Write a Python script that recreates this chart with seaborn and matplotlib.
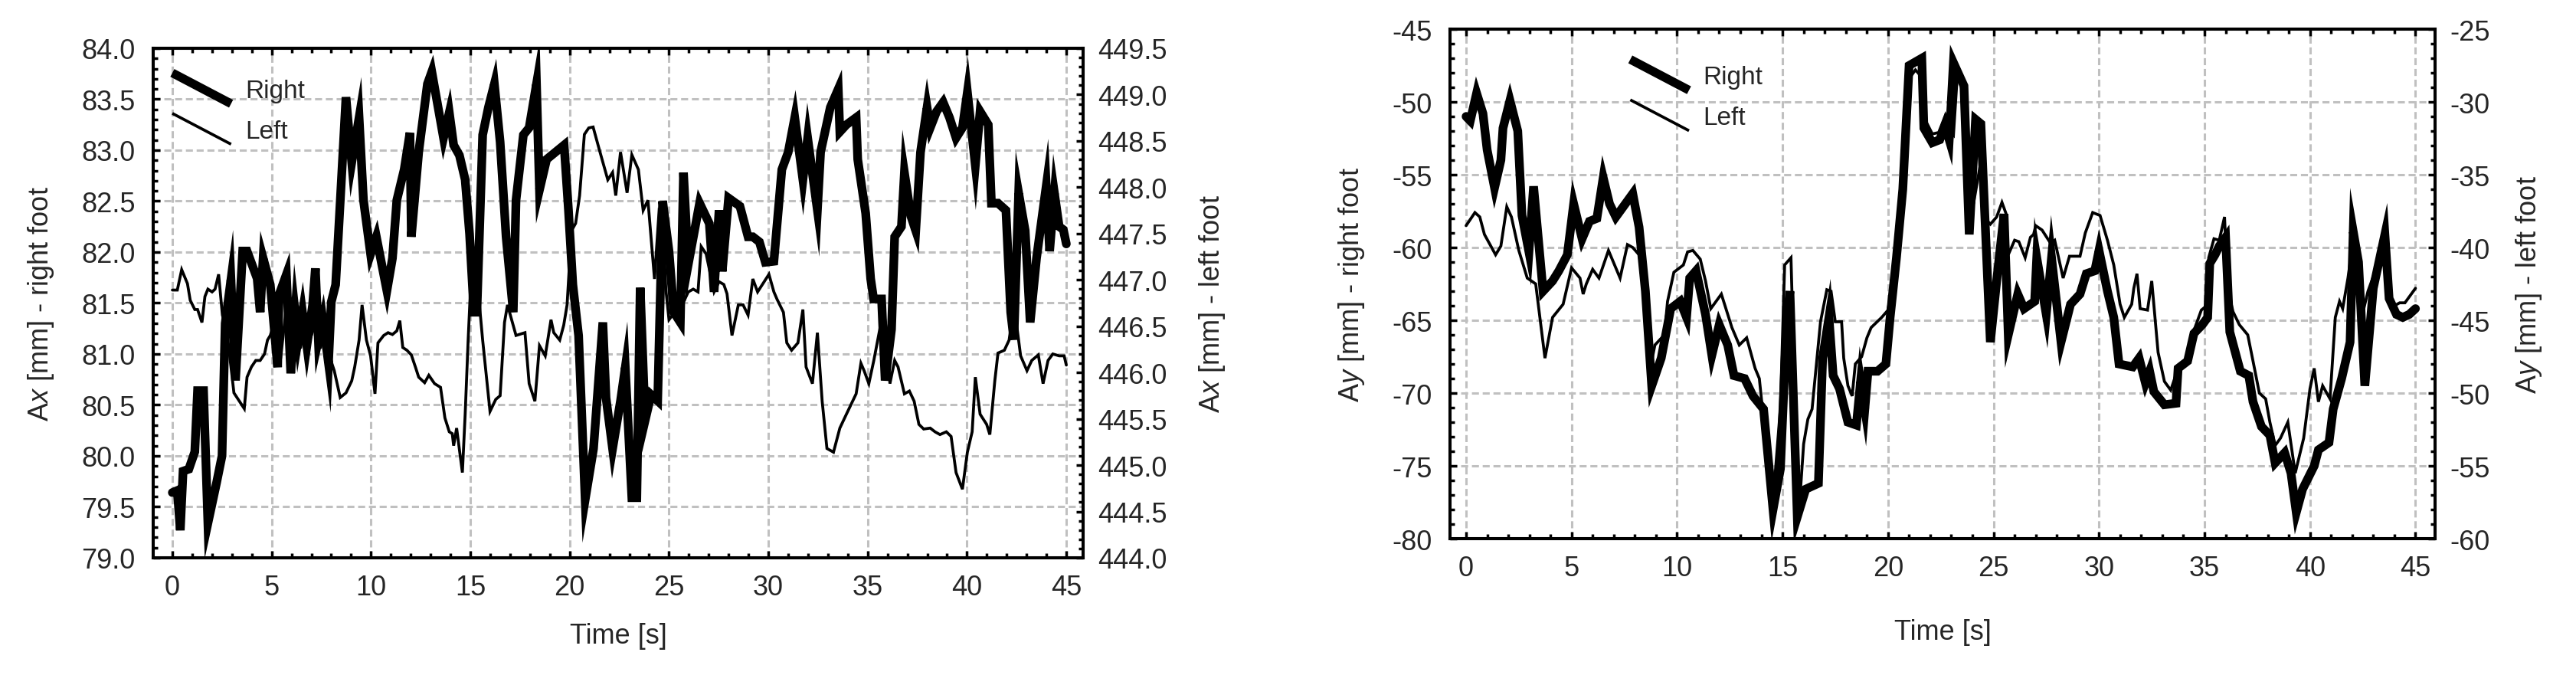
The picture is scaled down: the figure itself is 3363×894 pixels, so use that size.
import numpy as np
import matplotlib
matplotlib.use("Agg")
import matplotlib.pyplot as plt
import seaborn as sns
from matplotlib.lines import Line2D
from matplotlib.legend_handler import HandlerLine2D
from matplotlib.ticker import MultipleLocator, FormatStrFormatter

# ---- data: Ax (left panel) ----
t_ax_right = [0.0, 0.25, 0.4, 0.54, 0.83, 1.13, 1.27, 1.57, 1.79, 2.23, 2.5, 2.66, 2.95, 3.18, 3.54,
              3.76, 4.27, 4.42, 4.57, 4.93, 5.3, 5.37, 5.74, 5.96, 6.18, 6.33, 6.55, 6.77, 7.06, 7.2,
              7.35, 7.57, 7.86, 8.0, 8.22, 8.74, 9.03, 9.4, 9.62, 9.98, 10.27, 10.8, 11.08, 11.3,
              11.67, 11.96, 12.03, 12.4, 12.84, 13.06, 13.35, 13.65, 13.94, 14.16, 14.45, 14.74,
              14.96, 15.18, 15.33, 15.62, 15.91, 16.21, 16.5, 16.8, 17.16, 17.3, 17.67, 17.96,
              18.33, 18.48, 18.84, 19.28, 19.72, 19.94, 20.16, 20.45, 20.78, 21.2, 21.67, 21.83,
              22.16, 22.56, 22.8, 23.13, 23.38, 23.55, 23.8, 24.1, 24.43, 24.68, 25.0, 25.24,
              25.57, 25.73, 25.97, 26.54, 27.03, 27.27, 27.52, 27.68, 28.0, 28.57, 28.98, 29.22,
              29.55, 29.85, 30.28, 30.68, 31.0, 31.33, 31.74, 31.98, 32.47, 32.63, 33.12, 33.52,
              33.6, 33.93, 34.42, 34.5, 34.9, 35.15, 35.3, 35.7, 35.88, 36.2, 36.36, 36.7, 36.85,
              37.18, 37.42, 37.66, 37.99, 38.15, 38.47, 38.8, 39.12, 39.45, 39.77, 40.02, 40.42,
              40.66, 41.07, 41.23, 41.56, 41.96, 42.2, 42.36, 42.6, 42.93, 43.18, 43.5, 43.99,
              44.16, 44.4, 44.64, 44.85, 45.0]
ax_right = [79.64, 79.66, 79.27, 79.85, 79.87, 80.04, 80.64, 80.64, 79.34, 79.74, 80.0, 81.3, 81.73,
            80.74, 82.01, 82.01, 81.74, 81.41, 81.94, 81.68, 80.87, 81.58, 81.78, 80.81, 81.41,
            81.14, 81.41, 81.08, 81.48, 81.84, 81.14, 81.34, 80.91, 81.51, 81.68, 83.52, 82.88,
            83.32, 82.51, 81.98, 82.15, 81.62, 81.94, 82.51, 82.81, 83.17, 82.15, 82.98, 83.65,
            83.77, 83.45, 83.12, 83.37, 83.05, 82.95, 82.71, 82.18, 81.41, 81.41, 83.15, 83.42,
            83.65, 83.08, 82.15, 81.41, 82.51, 83.15, 83.22, 83.65, 82.61, 82.91, 82.98, 83.05,
            82.41, 81.68, 81.18, 79.57, 80.07, 81.31, 80.57, 80.07, 80.54, 80.87, 79.59, 79.59,
            81.65, 80.35, 80.6, 80.54, 82.5, 82.01, 81.41, 81.31, 82.78, 81.88, 82.48, 82.28,
            81.61, 82.41, 81.81, 82.53, 82.45, 82.15, 82.15, 82.1, 81.9, 81.91, 82.81, 82.98,
            83.32, 82.71, 83.12, 82.41, 82.98, 83.42, 83.6, 83.18, 83.25, 83.32, 82.91, 82.38,
            81.74, 81.54, 81.54, 80.74, 81.24, 82.15, 82.25, 82.78, 82.35, 82.21, 82.98, 83.42,
            83.22, 83.38, 83.47, 83.32, 83.12, 83.22, 83.57, 82.85, 83.38, 83.25, 82.48, 82.48,
            82.41, 81.41, 81.14, 82.58, 82.21, 81.31, 81.94, 82.65, 82.01, 82.58, 82.25, 82.22,
            82.08]

t_ax_left = [0.0, 0.25, 0.47, 0.76, 0.9, 1.13, 1.27, 1.49, 1.64, 1.79, 2.0, 2.15, 2.33, 2.52, 2.75,
             3.1, 3.47, 3.62, 3.76, 3.98, 4.2, 4.42, 4.64, 4.79, 4.93, 5.2, 5.45, 5.7, 5.95, 6.2,
             6.45, 6.7, 6.95, 7.2, 7.45, 7.7, 7.95, 8.15, 8.45, 8.74, 9.03, 9.18, 9.4, 9.55, 9.77,
             9.98, 10.2, 10.35, 10.64, 10.86, 11.08, 11.3, 11.45, 11.6, 11.81, 12.03, 12.25, 12.4,
             12.7, 12.91, 13.2, 13.5, 13.72, 13.94, 14.09, 14.16, 14.31, 14.6, 14.74, 14.89,
             15.03, 15.2, 15.45, 15.62, 15.99, 16.28, 16.5, 16.72, 16.87, 17.3, 17.75, 17.96,
             18.25, 18.48, 18.77, 19.06, 19.2, 19.5, 19.7, 19.87, 20.09, 20.3, 20.5, 20.74, 20.96,
             21.18, 21.5, 21.92, 22.16, 22.32, 22.56, 22.89, 23.13, 23.46, 23.7, 23.94, 24.27,
             24.5, 24.68, 24.84, 25.0, 25.25, 25.49, 25.73, 25.97, 26.22, 26.46, 26.62, 26.87,
             27.27, 27.52, 27.76, 27.92, 28.17, 28.49, 28.73, 28.98, 29.22, 29.46, 29.79, 30.03,
             30.28, 30.44, 30.76, 30.93, 31.17, 31.49, 31.74, 31.9, 32.22, 32.47, 32.71, 32.95,
             33.28, 33.6, 33.93, 34.42, 34.66, 34.82, 35.06, 35.31, 35.55, 35.8, 35.96, 36.12,
             36.36, 36.53, 36.85, 37.1, 37.34, 37.58, 37.82, 38.15, 38.39, 38.64, 38.96, 39.2,
             39.45, 39.77, 40.02, 40.26, 40.42, 40.66, 40.99, 41.15, 41.4, 41.56, 41.88, 42.12,
             42.37, 42.7, 43.02, 43.26, 43.59, 43.83, 44.08, 44.32, 44.64, 44.89, 45.0]
ax_left = [446.89, 446.89, 447.11, 446.96, 446.78, 446.68, 446.68, 446.54, 446.82, 446.90, 446.87,
           446.90, 447.06, 446.62, 446.44, 445.78, 445.66, 445.61, 445.95, 446.06, 446.13, 446.13,
           446.20, 446.35, 446.40, 446.59, 446.15, 446.64, 446.31, 446.53, 446.26, 446.59, 446.37,
           446.53, 446.26, 446.48, 446.15, 446.02, 445.73, 445.78, 445.91, 446.06, 446.35, 446.73,
           446.35, 446.18, 445.77, 446.32, 446.40, 446.43, 446.41, 446.45, 446.56, 446.27, 446.24,
           446.19, 446.05, 445.95, 445.89, 445.97, 445.88, 445.84, 445.51, 445.36, 445.34, 445.21,
           445.40, 444.92, 445.55, 446.35, 447.01, 446.81, 446.75, 446.35, 445.58, 445.71, 445.75,
           446.54, 446.73, 446.40, 446.43, 445.88, 445.69, 446.29, 446.18, 446.57, 446.43, 446.35,
           446.51, 446.73, 447.53, 447.61, 447.91, 448.57, 448.64, 448.65, 448.40, 448.08, 448.16,
           447.91, 448.38, 447.94, 448.35, 448.19, 447.75, 447.86, 447.01, 447.74, 447.69, 446.90,
           446.57, 446.64, 446.68, 446.76, 446.87, 446.90, 446.87, 447.36, 447.28, 446.87, 446.98,
           446.95, 446.85, 446.40, 446.73, 446.73, 446.62, 447.01, 446.87, 446.98, 447.06, 446.87,
           446.79, 446.65, 446.32, 446.24, 446.32, 446.68, 446.06, 445.88, 446.43, 445.69, 445.18,
           445.14, 445.40, 445.55, 445.77, 446.10, 446.02, 445.88, 446.13, 446.40, 446.68, 446.43,
           445.88, 446.13, 446.06, 445.77, 445.80, 445.69, 445.44, 445.39, 445.40, 445.36, 445.33,
           445.36, 445.31, 444.92, 444.74, 445.14, 445.36, 445.95, 445.55, 445.44, 445.33, 445.91,
           446.21, 446.24, 446.35, 446.73, 446.18, 446.02, 446.13, 446.19, 445.88, 446.13, 446.20,
           446.18, 446.18, 446.08]

# ---- data: Ay (right panel) ----
t_ay_right = [0.0, 0.2, 0.5, 0.8, 1.0, 1.35, 1.65, 1.75, 2.08, 2.45, 2.65, 2.98, 3.2, 3.65, 4.1, 4.4,
              4.8, 5.1, 5.5, 5.85, 6.2, 6.5, 6.8, 7.1, 7.9, 8.2, 8.5, 8.8, 9.25, 9.7, 10.15, 10.45,
              10.6, 10.9, 11.35, 11.65, 12.0, 12.4, 12.7, 13.2, 13.6, 14.1, 14.55, 14.9, 15.2,
              15.35, 15.7, 16.1, 16.7, 16.9, 17.2, 17.4, 17.7, 18.1, 18.5, 18.7, 18.9, 19.05, 19.5,
              19.9, 20.1, 20.4, 20.7, 21.0, 21.6, 21.7, 22.1, 22.45, 22.7, 22.9, 23.1, 23.6, 23.85,
              24.15, 24.4, 24.85, 25.2, 25.5, 25.7, 26.15, 26.45, 26.95, 27.05, 27.5, 27.75, 28.2,
              28.65, 29.1, 29.4, 29.8, 30.0, 30.4, 30.7, 30.95, 31.6, 31.9, 32.2, 32.4, 32.6, 33.1,
              33.65, 33.75, 34.2, 34.5, 34.9, 35.15, 35.25, 35.5, 35.7, 36.0, 36.2, 36.7, 37.1,
              37.3, 37.7, 38.1, 38.35, 38.8, 39.1, 39.35, 39.65, 40.2, 40.4, 40.9, 41.1, 41.5,
              41.9, 42.05, 42.3, 42.6, 43.0, 43.55, 43.75, 44.1, 44.4, 44.7, 45.0]
ay_right = [-51.0, -51.3, -49.4, -50.8, -53.3, -55.9, -54.0, -51.8, -49.9, -52.0, -57.8, -60.3,
            -55.8, -63.0, -62.3, -61.6, -60.5, -57.0, -59.4, -58.2, -58.0, -55.2, -57.0, -57.9,
            -56.3, -58.6, -63.0, -69.5, -67.6, -64.2, -63.7, -64.8, -62.1, -61.6, -64.6, -67.4,
            -65.3, -66.7, -68.8, -69.0, -70.2, -71.1, -78.0, -75.2, -65.0, -63.0, -78.5, -76.6,
            -76.2, -67.6, -64.8, -68.8, -69.7, -72.0, -72.2, -69.2, -71.1, -68.5, -68.5, -68.0,
            -64.8, -60.7, -56.0, -47.5, -47.0, -51.8, -52.8, -52.6, -51.6, -52.6, -47.3, -48.9,
            -59.1, -51.2, -51.5, -66.5, -61.6, -57.7, -66.0, -63.2, -64.2, -63.7, -60.7, -64.6,
            -60.7, -66.5, -63.9, -63.2, -61.8, -61.6, -60.2, -63.0, -64.8, -68.0, -68.2, -67.6,
            -69.3, -68.5, -69.9, -70.8, -70.7, -68.3, -67.8, -65.9, -65.3, -64.8, -61.1, -60.5,
            -59.9, -59.3, -65.8, -68.5, -68.8, -70.6, -72.3, -72.9, -74.8, -74.1, -75.5, -78.2,
            -76.6, -75.0, -73.9, -73.4, -71.1, -69.0, -66.5, -58.9, -61.0, -69.5, -62.8, -59.1,
            -63.5, -64.6, -64.8, -64.6, -64.2]

t_ay_left = [0.0, 0.42, 0.65, 0.87, 1.4, 1.65, 1.93, 2.15, 2.5, 2.9, 3.3, 3.74, 4.1, 4.6, 5.0, 5.4,
             5.55, 5.7, 6.0, 6.3, 6.75, 7.3, 7.65, 7.9, 8.2, 8.5, 8.8, 8.95, 9.4, 9.55, 9.85, 10.3,
             10.5, 10.75, 11.1, 11.35, 11.6, 12.1, 12.6, 12.95, 13.3, 13.7, 13.9, 14.05, 14.35,
             14.6, 14.9, 15.1, 15.4, 15.75, 16.0, 16.2, 16.4, 16.8, 17.1, 17.3, 17.5, 17.8, 17.9,
             18.1, 18.3, 18.45, 18.75, 19.0, 19.2, 19.7, 20.0, 20.3, 20.6, 20.95, 21.3, 21.6,
             21.75, 22.1, 22.4, 22.7, 22.85, 23.1, 23.3, 23.55, 23.8, 24.05, 24.35, 24.6, 24.85,
             25.15, 25.4, 25.6, 25.7, 26.0, 26.2, 26.5, 26.75, 26.9, 27.0, 27.3, 27.7, 27.9, 28.3,
             28.6, 29.1, 29.35, 29.7, 30.05, 30.4, 30.7, 31.0, 31.2, 31.55, 31.65, 31.8, 31.95,
             32.3, 32.5, 32.8, 33.1, 33.4, 33.7, 34.2, 34.5, 34.85, 35.1, 35.2, 35.45, 35.7,
             35.95, 36.1, 36.35, 36.65, 37.05, 37.3, 37.6, 37.9, 38.1, 38.35, 38.6, 38.95, 39.3,
             39.7, 40.0, 40.2, 40.4, 40.6, 40.95, 41.2, 41.4, 41.55, 41.8, 42.0, 42.25, 42.5,
             42.75, 43.0, 43.3, 43.55, 43.75, 44.0, 44.25, 44.5, 44.7, 45.0]
ay_left = [-38.5, -37.6, -37.9, -39.1, -40.5, -39.9, -37.2, -37.9, -40.2, -42.1, -42.5, -47.6, -44.8,
           -43.9, -41.4, -42.1, -43.2, -42.5, -41.5, -42.1, -40.2, -42.1, -39.8, -40.0, -40.5,
           -43.0, -47.8, -46.7, -46.0, -43.7, -41.7, -41.2, -40.3, -40.2, -40.8, -42.3, -44.2,
           -43.2, -45.5, -46.7, -46.2, -48.3, -49.0, -51.1, -53.5, -56.5, -51.0, -41.2, -40.7,
           -58.8, -53.5, -51.8, -51.1, -45.1, -42.9, -43.0, -45.1, -45.1, -47.6, -49.5, -50.2,
           -48.0, -47.5, -46.2, -45.5, -44.8, -44.3, -41.5, -36.5, -28.5, -27.8, -28.3, -31.2,
           -32.2, -32.1, -31.0, -32.0, -32.3, -27.8, -29.5, -33.0, -37.0, -34.5, -38.0, -38.4,
           -37.9, -36.9, -37.7, -40.5, -39.5, -39.6, -40.7, -39.3, -39.1, -38.5, -38.8, -39.7,
           -39.5, -42.1, -40.6, -40.6, -39.0, -37.6, -37.8, -39.5, -41.2, -43.9, -44.8, -43.9,
           -42.8, -41.8, -44.2, -44.3, -42.3, -47.2, -49.2, -49.8, -48.5, -47.8, -45.7, -44.3,
           -44.0, -40.7, -39.4, -39.5, -37.9, -42.8, -44.4, -45.3, -46.0, -47.8, -50.0, -50.4,
           -52.0, -53.6, -53.1, -52.0, -55.5, -53.1, -49.7, -48.3, -50.6, -49.5, -50.4, -44.8,
           -43.7, -44.2, -42.1, -40.0, -42.0, -44.5, -43.0, -42.0, -41.0, -40.0, -43.2, -44.0,
           -43.8, -43.8, -43.4, -42.8]

legend_labels = ["Right", "Left"]
x_ticks = [0, 5, 10, 15, 20, 25, 30, 35, 40, 45]

sns.set_theme(style="white")
plt.rcParams["font.family"] = ["Liberation Sans", "DejaVu Sans"]
plt.rcParams["mathtext.fontset"] = "custom"
plt.rcParams["mathtext.rm"] = "Liberation Sans"
plt.rcParams["mathtext.it"] = "Liberation Sans:italic"
plt.rcParams["axes.unicode_minus"] = False

FS = 26
THICK = 8.2
THIN = 2.7
GRID = "#c0c0c0"


class SlashHandler(HandlerLine2D):
    """Legend key drawn as a falling diagonal stroke."""
    def create_artists(self, legend, orig_handle, xdescent, ydescent,
                       width, height, fontsize, trans):
        line = Line2D([-xdescent, width - xdescent],
                      [-ydescent + height * 1.2, -ydescent - height * 0.2])
        self.update_prop(line, orig_handle, legend)
        line.set_solid_capstyle("butt")
        line.set_transform(trans)
        return [line]


def style_panel(ax, ax2, xlim, ylim, ylim2, ymaj, ymin, fmt):
    ax.set_xlim(*xlim)
    ax.set_ylim(*ylim)
    ax2.set_ylim(*ylim2)
    ax.set_xticks(x_ticks)
    ax.xaxis.set_minor_locator(MultipleLocator(1))
    ax.yaxis.set_major_locator(MultipleLocator(ymaj))
    ax.yaxis.set_minor_locator(MultipleLocator(ymin))
    ax2.yaxis.set_major_locator(MultipleLocator(ymaj))
    ax2.yaxis.set_minor_locator(MultipleLocator(ymin))
    ax.yaxis.set_major_formatter(FormatStrFormatter(fmt))
    ax2.yaxis.set_major_formatter(FormatStrFormatter(fmt))
    ax.set_axisbelow(True)
    ax.grid(True, which="major", color=GRID, linewidth=2.2, linestyle=(0, (3, 1.6)))
    for a in (ax, ax2):
        for sp in a.spines.values():
            sp.set_linewidth(2.9)
            sp.set_color("black")
    ax.tick_params(which="both", direction="in", top=True, bottom=True, left=True,
                   right=False, width=2.5, color="black", labelsize=FS)
    ax.tick_params(which="major", length=6.5)
    ax.tick_params(which="minor", length=4)
    ax.tick_params(axis="x", pad=15)
    ax.tick_params(axis="y", pad=17)
    ax2.tick_params(which="both", direction="in", right=True, left=False,
                    width=2.5, color="black", labelsize=FS, pad=14)
    ax2.tick_params(which="major", length=6.5)
    ax2.tick_params(which="minor", length=4)


fig = plt.figure(figsize=(33.63, 8.95), dpi=100)

# ---------- left panel: Ax ----------
axL = fig.add_axes([0.0595, 0.1855, 0.3610, 0.743])
axL2 = axL.twinx()
sns.lineplot(x=t_ax_right, y=ax_right, ax=axL, color="black", linewidth=THICK,
             sort=False, estimator=None, solid_joinstyle="miter", label=legend_labels[0],
             legend=False)
sns.lineplot(x=t_ax_left, y=ax_left, ax=axL2, color="black", linewidth=THIN,
             sort=False, estimator=None, solid_joinstyle="miter", label=legend_labels[1],
             legend=False)
style_panel(axL, axL2, (-0.96, 45.85), (79, 84), (444, 449.5), 0.5, 0.1, "%.1f")
axL.set_xlabel("Time [s]", fontsize=FS, labelpad=20)
axL.set_ylabel(r"A$\mathit{x}$ [mm] - right foot", fontsize=FS, labelpad=24)
axL2.set_ylabel(r"A$\mathit{x}$ [mm] - left foot", fontsize=FS, labelpad=28)

# ---------- right panel: Ay ----------
axR = fig.add_axes([0.5629, 0.2134, 0.3824, 0.743])
axR2 = axR.twinx()
sns.lineplot(x=t_ay_right, y=ay_right, ax=axR, color="black", linewidth=THICK,
             sort=False, estimator=None, solid_joinstyle="miter", label=legend_labels[0],
             legend=False)
sns.lineplot(x=t_ay_left, y=ay_left, ax=axR2, color="black", linewidth=THIN,
             sort=False, estimator=None, solid_joinstyle="miter", label=legend_labels[1],
             legend=False)
style_panel(axR, axR2, (-0.76, 45.93), (-80, -45), (-60, -25), 5, 1, "%d")
axR.set_xlabel("Time [s]", fontsize=FS, labelpad=35)
axR.set_ylabel(r"A$\mathit{y}$ [mm] - right foot", fontsize=FS, labelpad=24)
axR2.set_ylabel(r"A$\mathit{y}$ [mm] - left foot", fontsize=FS, labelpad=22)

# legends with slanted keys
for a, a2, anchor in ((axL, axL2, (0.0205, 0.943)), (axR, axR2, (0.183, 0.932))):
    handles = [Line2D([], [], color="black", linewidth=THICK),
               Line2D([], [], color="black", linewidth=THIN)]
    leg = a2.legend(handles, legend_labels, loc="upper left", bbox_to_anchor=anchor,
                    frameon=False, fontsize=24, borderpad=0, borderaxespad=0,
                    handlelength=2.3, handleheight=0.95, handletextpad=0.55,
                    labelspacing=0.6, handler_map={Line2D: SlashHandler()})

fig.savefig("out.png", dpi=100)
